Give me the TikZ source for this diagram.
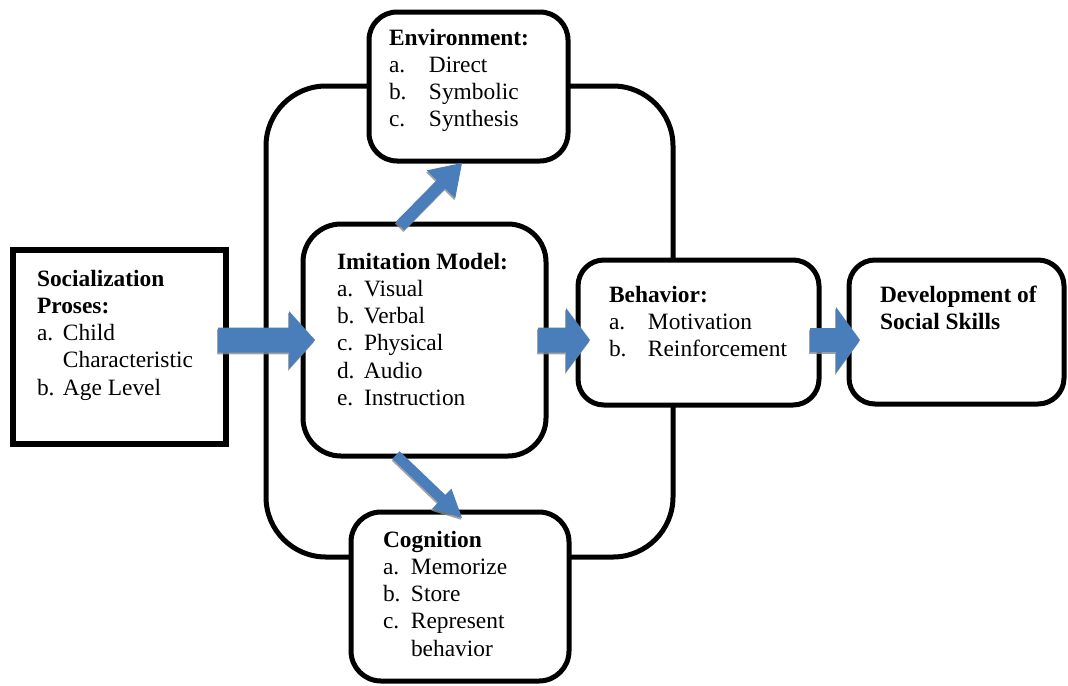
\documentclass[tikz,border=0pt]{standalone}
\usepackage{fontspec}
\setmainfont{Liberation Serif}
\usetikzlibrary{calc,shadows}
\definecolor{arrowblue}{HTML}{4A7EBB}
\tikzset{
  box/.style={draw=black, fill=white, line width=2.5pt, rounded corners=#1, inner sep=0pt, outer sep=0pt, rectangle},
  sqbox/.style={draw=black, fill=white, line width=3pt, inner sep=0pt, outer sep=0pt, rectangle},
  txt/.style={anchor=base west, inner sep=0pt, outer sep=0pt, font=\fontsize{11.7}{13.65}\selectfont},
  blk/.style={fill=arrowblue, drop shadow={shadow xshift=-0.4pt, shadow yshift=-0.9pt, fill=black!45, opacity=0.8}}
}
\newcommand\blockarrow[5]{%
  \coordinate (ba-h) at ($(#2)!#5!(#1)$);
  \fill[blk] ($(#1)!#3!90:(#2)$) -- ($(ba-h)!#3!90:(#2)$) -- ($(ba-h)!#4!90:(#2)$) -- (#2)
     -- ($(ba-h)!#4!-90:(#2)$) -- ($(ba-h)!#3!-90:(#2)$) -- ($(#1)!#3!-90:(#2)$) -- cycle;}
\begin{document}
\begin{tikzpicture}[x=0.5pt,y=-0.5pt]
\useasboundingbox (0,0) rectangle (1068,685);
% outer loop
\node[draw=black, line width=2.5pt, rounded corners=30pt, inner sep=0pt, outer sep=0pt, minimum width=203.5pt, minimum height=235.5pt] (loop) at (469.5,321.5) {};
% boxes
\node[sqbox, minimum width=106.5pt, minimum height=97pt] (soc) at (119.5,347) {};
\node[box=14pt, minimum width=99.5pt, minimum height=74.5pt] (env) at (468.5,86.5) {};
\node[box=19pt, minimum width=121.5pt, minimum height=116pt] (imit) at (424.5,340) {};
\node[box=13pt, minimum width=120.5pt, minimum height=72.5pt] (beh) at (698.5,332.5) {};
\node[box=13pt, minimum width=107.5pt, minimum height=72pt] (dev) at (956.5,332) {};
\node[box=15pt, minimum width=109pt, minimum height=84.5pt] (cog) at (460,596.5) {};
% texts
\node[txt] (soctxt) at (37,286) {\begin{tabular}[t]{@{}p{13pt}@{}l@{}}
\multicolumn{2}{@{}l@{}}{\textbf{Socialization}}\\
\multicolumn{2}{@{}l@{}}{\textbf{Proses:}}\\
a. & Child\\
 & Characteristic\\
b. & Age Level\end{tabular}};
\node[txt] (envtxt) at (389,45) {\begin{tabular}[t]{@{}p{20pt}@{}l@{}}
\multicolumn{2}{@{}l@{}}{\textbf{Environment:}}\\
a. & Direct\\
b. & Symbolic\\
c. & Synthesis\end{tabular}};
\node[txt] (imittxt) at (337,269) {\begin{tabular}[t]{@{}p{13.5pt}@{}l@{}}
\multicolumn{2}{@{}l@{}}{\textbf{Imitation Model:}}\\
a. & Visual\\
b. & Verbal\\
c. & Physical\\
d. & Audio\\
e. & Instruction\end{tabular}};
\node[txt] (behtxt) at (609,302) {\begin{tabular}[t]{@{}p{19.5pt}@{}l@{}}
\multicolumn{2}{@{}l@{}}{\textbf{Behavior:}}\\
a. & Motivation\\
b. & Reinforcement\end{tabular}};
\node[txt] (devtxt) at (880,302) {\begin{tabular}[t]{@{}l@{}}
\textbf{Development of}\\
\textbf{Social Skills}\end{tabular}};
\node[txt] (cogtxt) at (383,547) {\begin{tabular}[t]{@{}p{14pt}@{}l@{}}
\multicolumn{2}{@{}l@{}}{\textbf{Cognition}}\\
a. & Memorize\\
b. & Store\\
c. & Represent\\
 & behavior\end{tabular}};
% arrow end points
\coordinate (a1s) at ($(soc.east)+(-8,-7)$);
\coordinate (a1e) at ($(imit.west)+(12,0)$);
\coordinate (a2s) at ($(imit.east)+(-8,0)$);
\coordinate (a2e) at ($(beh.west)+(12,7.5)$);
\coordinate (a3s) at ($(beh.east)+(-9,7.5)$);
\coordinate (a3e) at ($(dev.west)+(11,8)$);
\coordinate (aus) at ($(imit.north)+(-24.5,2)$);
\coordinate (aue) at ($(env.south)+(-6.5,2)$);
\coordinate (ads) at ($(imit.south)+(-28.5,-1)$);
\coordinate (ade) at ($(cog.north)+(2,6)$);
\blockarrow{a1s}{a1e}{6.25pt}{14.5pt}{13pt}
\blockarrow{a2s}{a2e}{6.25pt}{16pt}{12pt}
\blockarrow{a3s}{a3e}{6pt}{16.5pt}{12pt}
\blockarrow{aus}{aue}{3pt}{10pt}{15pt}
\blockarrow{ads}{ade}{2.6pt}{7pt}{14pt}
\end{tikzpicture}
\end{document}
